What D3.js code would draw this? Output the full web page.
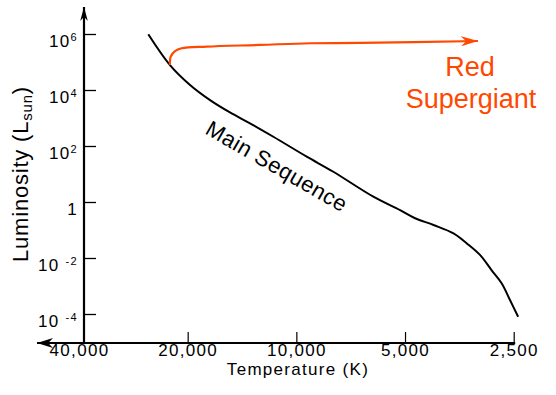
<!DOCTYPE html>
<html>
<head>
<meta charset="utf-8">
<script src="https://cdn.jsdelivr.net/npm/d3@7"></script>
<style>
  body { margin: 0; background: #fff; }
  svg text { font-family: "Liberation Sans", Arial, Helvetica, sans-serif; }
</style>
</head>
<body>
<svg id="chart" width="556" height="395"></svg>
<script>
// temperature ticks (K), luminosity tick exponents (log10 L/Lsun)
const tempTicks = [ 40000, 20000, 10000, 5000, 2500 ];
const lumExps = [ -4, -2, 0, 2, 4, 6 ];

// main sequence
const msTemp = [ 25710, 22390, 19700, 17340, 15270, 13440, 11580, 9360, 7900, 6120,
  5160, 4690, 4170, 3670, 3370, 3100, 2880, 2700, 2560, 2430 ];
const msLogLum = [ 5.99, 4.89, 4.18, 3.64, 3.20, 2.81, 2.33, 1.62, 1.08, 0.19,
  -0.29, -0.58, -0.82, -1.12, -1.48, -1.89, -2.43, -2.90, -3.50, -4.10 ];

// red supergiant track
const rsgTemp = [ 22390, 22290, 21680, 20780, 17720, 12610, 9160, 6660, 3140 ];
const rsgLogLum = [ 4.89, 5.19, 5.39, 5.49, 5.55, 5.61, 5.67, 5.68, 5.75 ];

const FONT = "'Liberation Sans', Arial, Helvetica, sans-serif";
const ORANGE = "#ff4800";
const AXIS_X = 84;
const AXIS_Y = 343;

const svg = d3.select( "#chart" );

const x = d3.scaleLog().domain( [ 40000, 2500 ] ).range( [ 79, 513.7 ] );
const y = d3.scaleLog().domain( [ 1e-4, 1e6 ] ).range( [ 314, 34 ] );

// arrow heads
const defs = svg.append( "defs" );
const addMarker = ( id, len, half, color ) => {
  defs.append( "marker" )
    .attr( "id", id )
    .attr( "viewBox", `${-len} ${-half} ${len} ${half * 2}` )
    .attr( "refX", 0 )
    .attr( "refY", 0 )
    .attr( "markerWidth", len )
    .attr( "markerHeight", half * 2 )
    .attr( "markerUnits", "userSpaceOnUse" )
    .attr( "orient", "auto" )
    .append( "path" )
    .attr( "d", `M0,0L${-len},${-half}L${-len * 0.7},0L${-len},${half}Z` )
    .attr( "fill", color );
};
addMarker( "arrY", 14, 3.8, "#000" );
addMarker( "arrX", 16, 5, "#000" );
addMarker( "arrR", 17, 5, ORANGE );

// y axis ticks
const yAxis = d3.axisLeft( y )
  .tickValues( lumExps.map( e => 10 ** e ) )
  .tickSize( -12 )
  .tickFormat( "" );

svg.append( "g" )
  .attr( "transform", `translate(${AXIS_X},0)` )
  .call( yAxis )
  .call( g => g.select( ".domain" ).remove() )
  .call( g => g.selectAll( ".tick line" ).attr( "stroke-width", 1.3 ) );

// y tick labels with superscripts
const yLab = svg.append( "g" )
  .attr( "font-size", 17 )
  .attr( "letter-spacing", 1.3 )
  .attr( "text-anchor", "end" );

lumExps.forEach( e => {
  const t = yLab.append( "text" )
    .attr( "x", 78 )
    .attr( "y", y( 10 ** e ) + 12.8 );
  if ( e === 0 ) {
    t.text( "1" );
    return;
  }
  t.append( "tspan" ).text( e < 0 ? "10 " : "10" );
  t.append( "tspan" )
    .attr( "font-size", 11 )
    .attr( "dy", -6 )
    .text( e < 0 ? `-${-e}` : e );
} );

// x axis ticks and labels
const xAxis = d3.axisBottom( x )
  .tickValues( tempTicks )
  .tickSize( -11 )
  .tickPadding( 0.5 )
  .tickFormat( d3.format( "," ) );

svg.append( "g" )
  .attr( "transform", `translate(0,${AXIS_Y})` )
  .call( xAxis )
  .attr( "font-size", 17 )
  .attr( "font-family", FONT )
  .attr( "letter-spacing", 1.3 )
  .call( g => g.select( ".domain" ).remove() )
  .call( g => g.selectAll( ".tick line" )
    .attr( "stroke-width", 1.2 )
    .attr( "display", d => d === tempTicks[0] ? "none" : null ) );

// axis lines with arrows
svg.append( "line" )
  .attr( "x1", AXIS_X ).attr( "y1", AXIS_Y + 1 )
  .attr( "x2", AXIS_X ).attr( "y2", 7 )
  .attr( "stroke", "#000" )
  .attr( "stroke-width", 2.2 )
  .attr( "marker-end", "url(#arrY)" );

svg.append( "line" )
  .attr( "x1", x( 2500 ) + 1.5 ).attr( "y1", AXIS_Y )
  .attr( "x2", 37 ).attr( "y2", AXIS_Y )
  .attr( "stroke", "#000" )
  .attr( "stroke-width", 2.2 )
  .attr( "marker-end", "url(#arrX)" );

// titles
svg.append( "text" )
  .attr( "x", 298 )
  .attr( "y", 375 )
  .attr( "text-anchor", "middle" )
  .attr( "font-size", 17 )
  .attr( "letter-spacing", 1.3 )
  .text( "Temperature (K)" );

const yTitle = svg.append( "text" )
  .attr( "transform", "translate(28,174) rotate(-90)" )
  .attr( "text-anchor", "middle" )
  .attr( "font-size", 22 )
  .attr( "letter-spacing", 0.8 );
yTitle.append( "tspan" ).text( "Luminosity (L" );
yTitle.append( "tspan" ).attr( "font-size", 15 ).attr( "dy", 4 ).text( "sun" );
yTitle.append( "tspan" ).attr( "dy", -4 ).text( ")" );

// curves
const line = d3.line()
  .x( d => x( d[0] ) )
  .y( d => y( 10 ** d[1] ) )
  .curve( d3.curveCatmullRom.alpha( 0.5 ) );

svg.append( "path" )
  .datum( d3.zip( msTemp, msLogLum ) )
  .attr( "d", line )
  .attr( "fill", "none" )
  .attr( "stroke", "#000" )
  .attr( "stroke-width", 2 );

svg.append( "path" )
  .datum( d3.zip( rsgTemp, rsgLogLum ) )
  .attr( "d", line )
  .attr( "fill", "none" )
  .attr( "stroke", ORANGE )
  .attr( "stroke-width", 2.2 )
  .attr( "marker-end", "url(#arrR)" );

// labels
svg.append( "text" )
  .attr( "transform", "translate(204,133) rotate(30)" )
  .attr( "font-size", 22 )
  .attr( "letter-spacing", 0.5 )
  .text( "Main Sequence" );

const rsg = svg.append( "text" )
  .attr( "text-anchor", "middle" )
  .attr( "font-size", 27 )
  .attr( "fill", ORANGE );
rsg.append( "tspan" ).attr( "x", 470 ).attr( "y", 75.5 ).text( "Red" );
rsg.append( "tspan" ).attr( "x", 471 ).attr( "y", 108 ).text( "Supergiant" );
</script>
</body>
</html>
